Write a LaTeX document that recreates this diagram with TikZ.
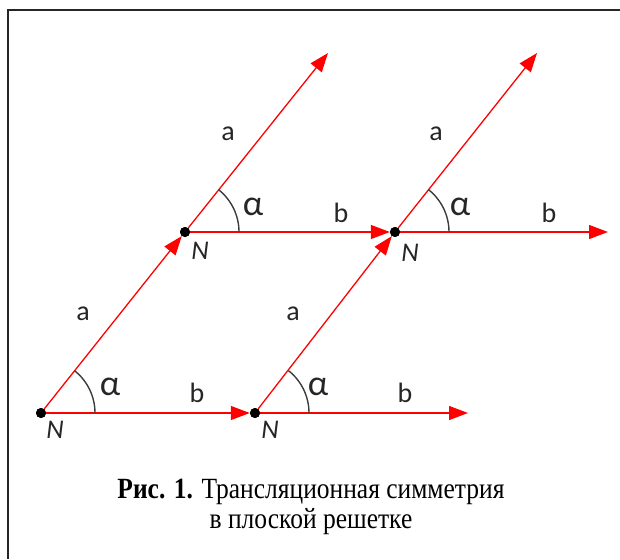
\documentclass[tikz,border=0pt]{standalone}
\usepackage{fontspec}
\setmainfont{Liberation Serif}
\newfontfamily\lblfont{Carlito}
\usetikzlibrary{arrows.meta}
\definecolor{vecred}{RGB}{255,0,0}
\definecolor{arcgray}{RGB}{60,60,60}
\tikzset{
  vec/.style={draw=vecred, line width=1.3pt, -{Triangle[length=19pt,width=14pt]}},
  dot/.style={circle, fill=black, inner sep=0pt, minimum size=10pt},
  angarc/.style={draw=arcgray, line width=1.4pt},
  lbl/.style={font=\lblfont\fontsize{28}{32}\selectfont, text=black!85, inner sep=0pt},
  nlbl/.style={font=\lblfont\itshape\fontsize{27}{30}\selectfont, text=black!85, inner sep=0pt},
  albl/.style={font=\lblfont\fontsize{36}{40}\selectfont, text=black!85, inner sep=0pt},
  caption/.style={font=\fontsize{25.5}{28}\selectfont, inner sep=0pt}
}
\begin{document}
\begin{tikzpicture}[x=1pt,y=-1pt]
\useasboundingbox (0,0) rectangle (620,559);
\draw[line width=2pt, black!85] (8,559) -- (8,10) -- (620,10);
% lattice points
\node[dot] (n1) at (41,413) {};
\node[dot] (n2) at (255,413) {};
\node[dot] (n3) at (185,232) {};
\node[dot] (n4) at (395,232) {};
\coordinate (t3) at (328,53);
\coordinate (t4) at (537,53);
\coordinate (t2) at (468,413);
\coordinate (t5) at (608,232);
% vectors
\draw[vec] (n1) -- (n2);
\draw[vec] (n2) -- (t2);
\draw[vec] (n1) -- (n3);
\draw[vec] (n2) -- (n4);
\draw[vec] (n3) -- (t3);
\draw[vec] (n3) -- (n4);
\draw[vec] (n4) -- (t4);
\draw[vec] (n4) -- (t5);
% redraw dots on top
\foreach \p in {n1,n2,n3,n4} \fill (\p.center) circle[radius=5pt];
% angle arcs
\foreach \p in {n1,n2,n3,n4}
  \draw[angarc] (\p.center) ++(54,0) arc[start angle=0, end angle=51.5, radius=54pt];
% labels
\node[nlbl] (N1) at (55,430) {N};
\node[nlbl] (N2) at (270,430) {N};
\node[nlbl] (N3) at (200,251) {N};
\node[nlbl] (N4) at (410,253) {N};
\node[lbl] (b1) at (197,393) {b};
\node[lbl] (b2) at (405,393) {b};
\node[lbl] (b3) at (341,213) {b};
\node[lbl] (b4) at (549,213) {b};
\node[lbl] (a1) at (83,314) {a};
\node[lbl] (a2) at (293,314) {a};
\node[lbl] (a3) at (228,134) {a};
\node[lbl] (a4) at (436,134) {a};
\node[albl] (al1) at (110,387) {α};
\node[albl] (al2) at (318,387) {α};
\node[albl] (al3) at (253,207) {α};
\node[albl] (al4) at (460,207) {α};
% caption
\node[caption] (cap) at (311,507) {\scalebox{1}[1.15]{\begin{tabular}{@{}c@{}}\textbf{Рис. 1.} Трансляционная симметрия\\[-2pt]в плоской решетке\end{tabular}}};
\end{tikzpicture}
\end{document}
